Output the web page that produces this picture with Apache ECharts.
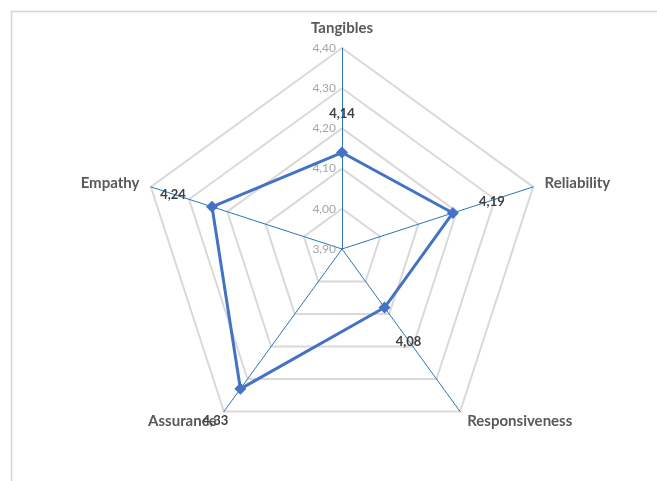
<!DOCTYPE html>
<html>
<head>
<meta charset="utf-8">
<script src="https://cdn.jsdelivr.net/npm/echarts@6/dist/echarts.min.js"></script>
<style>
html,body{margin:0;padding:0;background:#fff;}
#chart{width:657px;height:481px;}
</style>
</head>
<body>
<div id="chart"></div>
<script>
// Service quality dimensions and their mean scores (clockwise from the top)
const dimensions = ['Tangibles', 'Reliability', 'Responsiveness', 'Assurance', 'Empathy'];
const scores = [4.14, 4.19, 4.08, 4.33, 4.24];
const scaleMin = 3.9;
const scaleMax = 4.4;
const scaleStep = 0.1;

// Where each value label sits relative to its marker (dx, dy), per dimension
const labelShift = [[0, -39], [39, -11], [24, 34], [-25, 32], [-39, -12]];

// ECharts lays radar axes out counter-clockwise, so walk the list backwards after the first
const order = [0, 4, 3, 2, 1];
const radarNames = order.map(i => dimensions[i]);
const radarValues = order.map(i => scores[i]);

const fmt = v => v.toFixed(2).replace('.', ',');

const rich = {};
labelShift.forEach(([dx, dy], i) => {
  rich['d' + i] = {
    fontFamily: 'Lato, sans-serif',
    fontWeight: 'bold',
    fontSize: 13,
    color: '#404040',
    padding: [dy > 0 ? 2 * dy : 0, dx < 0 ? -2 * dx : 0, dy < 0 ? -2 * dy : 0, dx > 0 ? 2 * dx : 0]
  };
});

const chart = echarts.init(document.getElementById('chart'));
chart.setOption({
  animation: false,
  graphic: [{
    type: 'polyline',
    shape: { points: [[11.5, 481], [11.5, 11.5], [657, 11.5]] },
    style: { stroke: '#d4d4d4', lineWidth: 1.5, fill: null }
  }],
  radar: {
    center: [342, 249],
    radius: 201,
    startAngle: 90,
    shape: 'polygon',
    splitNumber: 5,
    nameGap: 12,
    axisName: {
      color: '#595959',
      fontFamily: 'Lato, sans-serif',
      fontWeight: 'bold',
      fontSize: 15
    },
    indicator: radarNames.map((name, i) => {
      const ind = { name: name, min: scaleMin, max: scaleMax, interval: scaleStep };
      if (i === 0) {
        ind.axisLabel = {
          show: true,
          color: '#a6a6a6',
          fontFamily: 'Lato, sans-serif',
          fontSize: 12,
          margin: 6,
          formatter: v => fmt(v)
        };
      }
      return ind;
    }),
    axisLine: { lineStyle: { color: '#2e75b6', width: 1 } },
    axisTick: { show: false },
    axisLabel: { show: false },
    splitLine: { lineStyle: { color: '#d9d9d9', width: 2 } },
    splitArea: { show: false }
  },
  series: [{
    type: 'radar',
    symbol: 'diamond',
    symbolSize: 12,
    lineStyle: { color: '#4472c4', width: 3 },
    itemStyle: { color: '#4472c4' },
    label: {
      show: true,
      position: 'inside',
      formatter: p => {
        const v = typeof p.value === 'number' ? p.value : p.value[p.dimensionIndex];
        const i = scores.indexOf(v);
        return '{d' + i + '|' + fmt(v) + '}';
      },
      rich: rich
    },
    data: [{ value: radarValues }]
  }]
});
</script>
</body>
</html>
